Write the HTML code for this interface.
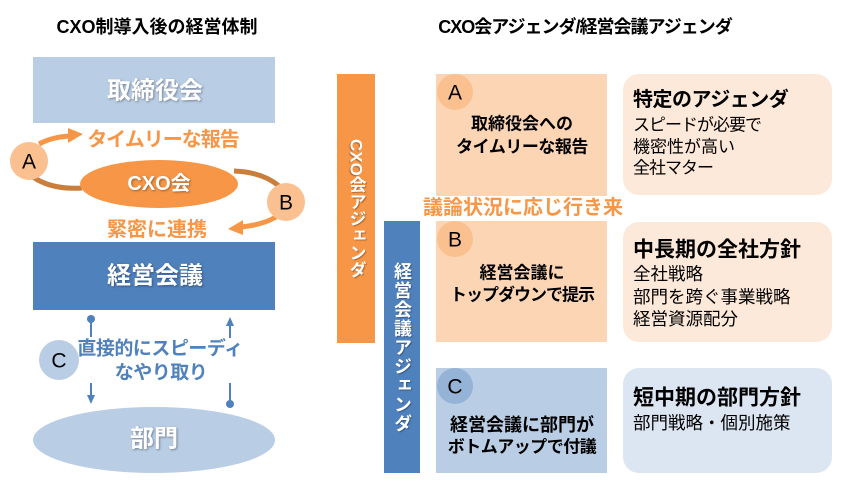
<!DOCTYPE html>
<html><head><meta charset="utf-8">
<style>
html,body{margin:0;padding:0;background:#fff;}
body{width:848px;height:493px;position:relative;overflow:hidden;font-family:"Liberation Sans","Noto Sans CJK JP",sans-serif;}
svg{position:absolute;left:0;top:0;}
svg text{font-family:"Liberation Sans","Noto Sans CJK JP",sans-serif;}
.wt{fill:#fff;font-weight:bold;filter:drop-shadow(1px 1px 1px rgba(0,0,0,0.35));}
.vt{position:absolute;writing-mode:vertical-rl;color:#fff;font-weight:bold;font-family:"Liberation Sans","Noto Sans CJK JP",sans-serif;display:flex;align-items:center;justify-content:center;text-shadow:1px 1px 1px rgba(0,0,0,0.3);}
</style></head>
<body>
<svg width="848" height="493" viewBox="0 0 848 493">
  <!-- titles -->
  <text x="157" y="27" font-size="18" font-weight="bold" text-anchor="middle" dominant-baseline="central" fill="#000">CXO制導入後の経営体制</text>
  <text x="585" y="27" font-size="18" font-weight="bold" text-anchor="middle" dominant-baseline="central" fill="#000" letter-spacing="-1">CXO会アジェンダ/経営会議アジェンダ</text>

  <!-- left: 取締役会 -->
  <rect x="33" y="57" width="242" height="66" fill="#B9CDE5"/>
  <text class="wt" x="155" y="91" font-size="24" text-anchor="middle" dominant-baseline="central">取締役会</text>

  <!-- ring segments -->
  <path d="M33,177 Q52,190 82,188" fill="none" stroke="#C97E3C" stroke-width="5"/>
  <path d="M234,171 Q262,172 279,186" fill="none" stroke="#C97E3C" stroke-width="5"/>

  <!-- arrow A -->
  <path d="M39,144 Q52,137 70,136" fill="none" stroke="#F79646" stroke-width="5"/>
  <polygon points="68,128 83,134 68,143" fill="#F79646"/>
  <!-- arrow B -->
  <path d="M276,217 Q262,225 241,227" fill="none" stroke="#F79646" stroke-width="5"/>
  <polygon points="243,220 228,229 243,235" fill="#F79646"/>

  <!-- CXO会 ellipse -->
  <ellipse cx="159" cy="184" rx="79" ry="24" fill="#F79646"/>
  <text class="wt" x="159" y="184" font-size="20" text-anchor="middle" dominant-baseline="central">CXO会</text>

  <!-- circles A, B -->
  <circle cx="29" cy="161" r="19" fill="#FAC090"/>
  <text x="29" y="162" font-size="21" text-anchor="middle" dominant-baseline="central" fill="#000">A</text>
  <circle cx="286" cy="202" r="19" fill="#FAC090"/>
  <text x="286" y="203" font-size="21" text-anchor="middle" dominant-baseline="central" fill="#000">B</text>

  <text x="163" y="140" font-size="20" font-weight="bold" text-anchor="middle" dominant-baseline="central" fill="#F79646" letter-spacing="-1">タイムリーな報告</text>
  <text x="157" y="230" font-size="20" font-weight="bold" text-anchor="middle" dominant-baseline="central" fill="#F79646">緊密に連携</text>

  <!-- 経営会議 -->
  <rect x="33" y="242" width="242" height="68" fill="#4F81BD"/>
  <text class="wt" x="155" y="276" font-size="24" text-anchor="middle" dominant-baseline="central">経営会議</text>

  <!-- connectors -->
  <circle cx="91" cy="319" r="4" fill="#4F81BD"/>
  <line x1="91" y1="319" x2="91" y2="337" stroke="#4F81BD" stroke-width="2"/>
  <line x1="91" y1="383" x2="91" y2="397" stroke="#4F81BD" stroke-width="2"/>
  <polygon points="87,395 95,395 91,404" fill="#4F81BD"/>
  <polygon points="226,326 234,326 230,317" fill="#4F81BD"/>
  <line x1="230" y1="324" x2="230" y2="338" stroke="#4F81BD" stroke-width="2"/>
  <line x1="230" y1="383" x2="230" y2="404" stroke="#4F81BD" stroke-width="2"/>
  <circle cx="230" cy="404" r="4" fill="#4F81BD"/>

  <circle cx="59" cy="360" r="20" fill="#B9CDE5"/>
  <text x="59" y="361" font-size="21" text-anchor="middle" dominant-baseline="central" fill="#000">C</text>
  <text x="160" y="349" font-size="19" font-weight="bold" text-anchor="middle" dominant-baseline="central" fill="#4F81BD" letter-spacing="-0.5">直接的にスピーディ</text>
  <text x="161" y="373" font-size="19" font-weight="bold" text-anchor="middle" dominant-baseline="central" fill="#4F81BD" letter-spacing="-0.5">なやり取り</text>

  <!-- 部門 -->
  <ellipse cx="154" cy="440" rx="121" ry="33" fill="#B9CDE5"/>
  <text class="wt" x="154" y="439" font-size="24" text-anchor="middle" dominant-baseline="central">部門</text>

  <!-- vertical bars -->
  <rect x="337" y="74" width="38" height="269" fill="#F79646"/>
  <rect x="384" y="221" width="36" height="252" fill="#4F81BD"/>

  <!-- center boxes -->
  <rect x="436" y="74" width="171" height="122" fill="#FCD5B4"/>
  <circle cx="455" cy="92" r="18" fill="#FAC090"/>
  <text x="455" y="93" font-size="21" text-anchor="middle" dominant-baseline="central" fill="#000">A</text>
  <text x="522" y="124" font-size="17" font-weight="bold" text-anchor="middle" dominant-baseline="central" fill="#000">取締役会への</text>
  <text x="522" y="147" font-size="17" font-weight="bold" text-anchor="middle" dominant-baseline="central" fill="#000" letter-spacing="-0.5">タイムリーな報告</text>

  <text x="523" y="208" font-size="20" font-weight="bold" text-anchor="middle" dominant-baseline="central" fill="#F79646">議論状況に応じ行き来</text>

  <rect x="436" y="221" width="171" height="121" fill="#FCD5B4"/>
  <circle cx="455" cy="239" r="18" fill="#FAC090"/>
  <text x="455" y="240" font-size="21" text-anchor="middle" dominant-baseline="central" fill="#000">B</text>
  <text x="522" y="273" font-size="17" font-weight="bold" text-anchor="middle" dominant-baseline="central" fill="#000">経営会議に</text>
  <text x="522" y="295" font-size="17" font-weight="bold" text-anchor="middle" dominant-baseline="central" fill="#000" letter-spacing="-1">トップダウンで提示</text>

  <rect x="436" y="368" width="171" height="105" fill="#B9CDE5"/>
  <circle cx="455" cy="386" r="18" fill="#95B3D7"/>
  <text x="455" y="387" font-size="21" text-anchor="middle" dominant-baseline="central" fill="#000">C</text>
  <text x="522" y="425" font-size="18" font-weight="bold" text-anchor="middle" dominant-baseline="central" fill="#000">経営会議に部門が</text>
  <text x="522" y="447" font-size="17" font-weight="bold" text-anchor="middle" dominant-baseline="central" fill="#000" letter-spacing="-0.5">ボトムアップで付議</text>

  <!-- right boxes -->
  <rect x="623" y="74" width="209" height="121" rx="16" fill="#FDE9D9"/>
  <text x="633" y="100" font-size="20" font-weight="bold" dominant-baseline="central" fill="#000" letter-spacing="-0.5">特定のアジェンダ</text>
  <text x="633" y="125" font-size="17" dominant-baseline="central" fill="#000" letter-spacing="-1">スピードが必要で</text>
  <text x="633" y="147" font-size="17" dominant-baseline="central" fill="#000">機密性が高い</text>
  <text x="633" y="168" font-size="17" dominant-baseline="central" fill="#000" letter-spacing="-1">全社マター</text>

  <rect x="623" y="222" width="209" height="120" rx="16" fill="#FDE9D9"/>
  <text x="633" y="250" font-size="21" font-weight="bold" dominant-baseline="central" fill="#000">中長期の全社方針</text>
  <text x="633" y="274" font-size="17.5" dominant-baseline="central" fill="#000">全社戦略</text>
  <text x="633" y="297" font-size="17.5" dominant-baseline="central" fill="#000">部門を跨ぐ事業戦略</text>
  <text x="633" y="319" font-size="17.5" dominant-baseline="central" fill="#000">経営資源配分</text>

  <rect x="623" y="368" width="209" height="105" rx="16" fill="#DCE6F2"/>
  <text x="633" y="398" font-size="21" font-weight="bold" dominant-baseline="central" fill="#000">短中期の部門方針</text>
  <text x="633" y="423" font-size="17.5" dominant-baseline="central" fill="#000">部門戦略・個別施策</text>
</svg>

<div class="vt" style="left:337px;top:74px;width:38px;height:269px;font-size:17px;">CXO会アジェンダ</div>
<div class="vt" style="left:384px;top:221px;width:36px;height:252px;font-size:18px;letter-spacing:1px;">経営会議アジェンダ</div>
</body></html>
